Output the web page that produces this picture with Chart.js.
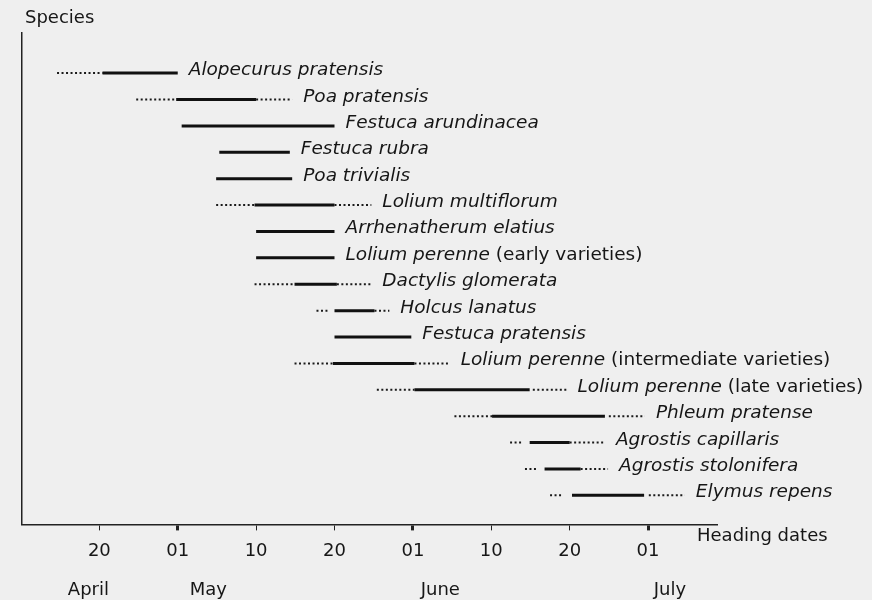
<!DOCTYPE html>
<html><head><meta charset="utf-8">
<script src="https://cdn.jsdelivr.net/npm/chart.js@4.4.1/dist/chart.umd.min.js"></script>
<style>html,body{margin:0;padding:0;background:#efefef;}#wrap{width:872px;height:600px;}</style>
</head><body><div id="wrap"><canvas id="c" width="872" height="600"></canvas></div>
<script>
// Axis units: evenly spaced dekads, 0 = 20 April, 10 = 01 May, 20 = 10 May, ... 70 = 01 July
const species = ["Alopecurus pratensis","Poa pratensis","Festuca arundinacea","Festuca rubra","Poa trivialis","Lolium multiflorum","Arrhenatherum elatius","Lolium perenne","Dactylis glomerata","Holcus lanatus","Festuca pratensis","Lolium perenne","Lolium perenne","Phleum pratense","Agrostis capillaris","Agrostis stolonifera","Elymus repens"];
const qualifiers = ["","","","","","","","(early varieties)","","","","(intermediate varieties)","(late varieties)","","","",""];
const earlyFrom = [-5.4, 4.7, null, null, null, 14.9, null, null, 19.8, 27.7, null, 24.9, 35.4, 45.3, 52.4, 54.3, 57.5];
const earlyTo   = [ 0.4, 9.8, null, null, null, 19.8, null, null, 24.9, 29.1, null, 29.8, 40.2, 50.1, 54.0, 55.9, 59.1];
const headFrom  = [ 0.4, 9.8, 10.5, 15.3, 14.9, 19.8, 20.0, 20.0, 24.9, 30.0, 30.0, 29.8, 40.2, 50.1, 54.9, 56.8, 60.3];
const headTo    = [10.0, 20.0, 30.0, 24.3, 24.6, 30.0, 30.0, 30.0, 30.3, 35.1, 39.8, 40.2, 54.9, 64.5, 60.0, 61.4, 69.5];
const lateFrom  = [null, 20.0, null, null, null, 30.0, null, null, 30.3, 35.1, null, 40.2, 55.3, 65.0, 60.0, 61.4, 70.1];
const lateTo    = [null, 24.6, null, null, null, 34.7, null, null, 34.7, 37.0, null, 44.7, 59.6, 69.6, 64.5, 64.9, 74.7];
const tickValues = [0, 10, 20, 30, 40, 50, 60, 70];
const tickLabels = ["20","01","10","20","01","10","20","01"];
const monthStartTicks = [1, 4, 7];
const months = ["April","May","June","July"];
const monthLabelAt = [-1.4, 13.9, 43.5, 72.8];

const FONT = '"DejaVu Sans"';
const INK = '#161616';

function segs(from, to) {
  const d = [];
  from.forEach((a, i) => {
    if (a == null) return;
    d.push({x: a, y: i}, {x: to[i], y: i}, {x: to[i], y: null});
  });
  return d;
}

const bg = {
  id: 'bg',
  beforeDraw(chart) {
    const c = chart.ctx; c.save(); c.fillStyle = '#efefef'; c.fillRect(0, 0, chart.width, chart.height); c.restore();
  }
};

const texts = {
  id: 'texts',
  afterDraw(chart) {
    const c = chart.ctx, xs = chart.scales.x, ys = chart.scales.y;
    c.save();
    c.fillStyle = INK;
    c.textBaseline = 'alphabetic';
    c.textAlign = 'left';
    species.forEach((name, i) => {
      const ends = [headTo[i], lateTo[i]].filter(v => v != null);
      const x = xs.getPixelForValue(Math.max(...ends)) + 11;
      const y = ys.getPixelForValue(i) + 2;
      c.font = 'italic 18.5px ' + FONT;
      c.fillText(name, x, y);
      if (qualifiers[i]) {
        const w = c.measureText(name + ' ').width;
        c.font = '18.5px ' + FONT;
        c.fillText(qualifiers[i], x + w, y);
      }
    });
    c.font = '18px ' + FONT;
    c.textBaseline = 'middle';
    c.fillText('Species', 25, 18);
    c.fillText('Heading dates', 697, 536);
    c.textAlign = 'center';
    months.forEach((m, i) => c.fillText(m, xs.getPixelForValue(monthLabelAt[i]), 590));
    c.restore();
  }
};

new Chart(document.getElementById('c'), {
  type: 'line',
  data: {
    datasets: [
      {data: segs(headFrom, headTo), borderColor: '#111', borderWidth: 3, borderCapStyle: 'butt', pointRadius: 0, spanGaps: false, tension: 0, fill: false},
      {data: segs(earlyFrom, earlyTo), borderColor: '#1a1a1a', borderWidth: 2, borderDash: [2, 2.5], borderCapStyle: 'butt', pointRadius: 0, spanGaps: false, tension: 0, fill: false},
      {data: segs(lateFrom, lateTo), borderColor: '#1a1a1a', borderWidth: 2, borderDash: [2, 2.5], borderCapStyle: 'butt', pointRadius: 0, spanGaps: false, tension: 0, fill: false}
    ]
  },
  options: {
    responsive: false,
    animation: false,
    devicePixelRatio: 1,
    layout: {padding: {left: 22, top: 33, right: 155, bottom: 28}},
    plugins: {legend: {display: false}, tooltip: {enabled: false}},
    scales: {
      x: {
        type: 'linear', min: -9.87, max: 78.8,
        afterBuildTicks: s => { s.ticks = tickValues.map(v => ({value: v})); },
        ticks: {callback: (v, i) => tickLabels[i], font: {family: FONT, size: 18}, color: INK, padding: 10, maxRotation: 0, autoSkip: false},
        grid: {display: true, drawOnChartArea: false, drawTicks: true, tickLength: 6, color: '#222', lineWidth: ctx => monthStartTicks.includes(ctx.index) ? 3 : 1},
        border: {display: true, color: '#222', width: 1.5}
      },
      y: {
        type: 'linear', reverse: true, min: -1.52, max: 17.1,
        grid: {display: false, drawTicks: false},
        ticks: {display: false},
        border: {display: true, color: '#222', width: 1.5}
      }
    }
  },
  plugins: [bg, texts]
});
</script></body></html>
